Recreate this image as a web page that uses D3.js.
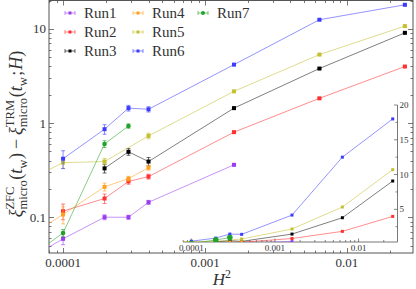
<!DOCTYPE html>
<html>
<head>
<meta charset="utf-8">
<script src="https://cdn.jsdelivr.net/npm/d3@7"></script>
<style>
  body { margin: 0; background: #fff; }
  svg { display: block; }
  text { font-family: "Liberation Serif", "DejaVu Serif", serif; fill: #333; }
</style>
</head>
<body>
<svg id="chart"></svg>
<script>
// Dimensioni finestra
const width = 416, height = 289;

// Valori di H^2 (il primo punto cade fuori dal riquadro, a sinistra)
const h2 = [0.00005, 0.0001, 0.000196, 0.000289, 0.0004, 0.0016, 0.0064, 0.0256];

// Serie: differenza xi_ZFC - xi_TRM per ogni run (null = punto assente)
const run1 = [0.032, 0.059, 0.100, 0.100, 0.144, 0.36, null, null];
const run2 = [null, 0.116, 0.158, 0.24, 0.27, 0.80, 1.83, 3.98];
const run3 = [null, null, 0.33, 0.495, 0.39, 1.44, 3.79, 9.07];
const run4 = [0.055, 0.107, 0.21, 0.257, 0.336, null, null, null];
const run5 = [0.225, 0.38, 0.39, null, 0.73, 2.17, 5.33, 10.7];
const run6 = [null, 0.418, 0.86, 1.44, 1.40, 4.17, 12.5, 18.0];
const run7 = [0.032, 0.068, 0.60, 0.93, null, null, null, null];

// Barre d'errore
const run1Err = [0.004, 0.008, 0.006, 0.005, 0.007, 0.008, null, null];
const run2Err = [null, 0.022, 0.018, 0.016, 0.016, 0.02, 0.03, 0.05];
const run3Err = [null, null, 0.035, 0.04, 0.04, 0.03, 0.05, 0.1];
const run4Err = [0.005, 0.022, 0.02, 0.015, 0.02, null, null, null];
const run5Err = [0.02, 0.05, 0.03, null, 0.05, 0.04, 0.06, 0.1];
const run6Err = [null, 0.09, 0.1, 0.1, 0.09, 0.06, 0.15, 0.2];
const run7Err = [0.003, 0.006, 0.05, 0.05, null, null, null, null];

const runNames = ['Run1', 'Run2', 'Run3', 'Run4', 'Run5', 'Run6', 'Run7'];
const runColors = ['#9a3cf0', '#ff3030', '#000000', '#ffa020', '#c4c030', '#3c3cff', '#22a22a'];

const xTickLabels = ['0.0001', '0.001', '0.01'];
const yTickLabels = ['0.1', '1', '10'];
const insetYTicks = [5, 10, 15, 20];

const series = [run1, run2, run3, run4, run5, run6, run7].map((vals, i) => ({
  name: runNames[i],
  color: runColors[i],
  points: h2.map((h, j) => ({ x: h, y: vals[j], e: [run1Err, run2Err, run3Err, run4Err, run5Err, run6Err, run7Err][i][j] }))
            .filter(p => p.y !== null)
}));

const svg = d3.select('#chart').attr('width', width).attr('height', height);

// Riquadro principale
const frame = { left: 49, right: 413, top: 0.5, bottom: 253 };
const x = d3.scaleLog().domain([7.96e-5, 0.0292]).range([frame.left, frame.right]);
const y = d3.scaleLog().domain([0.0417, 20]).range([frame.bottom, frame.top]);

// Riquadro inserito (asse y lineare)
const inset = { left: 183, right: 397.5, top: 105, bottom: 242 };
const xi = d3.scaleLog().domain(x.domain()).range([inset.left, inset.right]);
const yi = d3.scaleLinear().domain([0.3, 20]).range([inset.bottom, inset.top]);

const defs = svg.append('defs');
defs.append('clipPath').attr('id', 'clipMain').append('rect')
  .attr('x', frame.left).attr('y', frame.top)
  .attr('width', frame.right - frame.left).attr('height', frame.bottom - frame.top);
defs.append('clipPath').attr('id', 'clipInset').append('rect')
  .attr('x', inset.left).attr('y', inset.top - 3)
  .attr('width', inset.right - inset.left).attr('height', inset.bottom - inset.top + 3);

// Tacche logaritmiche
function logTicks(scale) {
  const [a, b] = scale.domain();
  const out = [];
  for (let n = -6; n <= 2; n++) {
    for (let k = 1; k <= 9; k++) {
      const v = k * Math.pow(10, n);
      if (v >= a * 0.999 && v <= b * 1.001) out.push({ v, major: k === 1 });
    }
  }
  return out;
}

const axisColor = '#555';
const axes = svg.append('g');

axes.append('rect')
  .attr('x', frame.left).attr('y', frame.top)
  .attr('width', frame.right - frame.left).attr('height', frame.bottom - frame.top)
  .attr('fill', 'none').attr('stroke', axisColor).attr('stroke-width', 1);

logTicks(x).forEach(t => {
  const len = t.major ? 5 : 2.5;
  const px = Math.round(x(t.v)) + 0.5;
  axes.append('line').attr('x1', px).attr('x2', px).attr('y1', frame.bottom).attr('y2', frame.bottom - len)
    .attr('stroke', axisColor).attr('stroke-width', 0.8);
  axes.append('line').attr('x1', px).attr('x2', px).attr('y1', frame.top).attr('y2', frame.top + len)
    .attr('stroke', axisColor).attr('stroke-width', 0.8);
});
logTicks(y).forEach(t => {
  const len = t.major ? 5 : 2.5;
  const py = Math.round(y(t.v)) + 0.5;
  axes.append('line').attr('x1', frame.left).attr('x2', frame.left + len).attr('y1', py).attr('y2', py)
    .attr('stroke', axisColor).attr('stroke-width', 0.8);
  axes.append('line').attr('x1', frame.right).attr('x2', frame.right - len).attr('y1', py).attr('y2', py)
    .attr('stroke', axisColor).attr('stroke-width', 0.8);
});

xTickLabels.forEach(s => {
  axes.append('text').attr('x', x(+s)).attr('y', 267)
    .attr('text-anchor', 'middle').style('font-size', '13px').text(s);
});
yTickLabels.forEach(s => {
  axes.append('text').attr('x', 46).attr('y', y(+s) + 4.5)
    .attr('text-anchor', 'end').style('font-size', '13px').text(s);
});

// Assi dell'inserto: solo destro e inferiore
const ia = svg.append('g');
ia.append('line').attr('x1', inset.left).attr('x2', inset.right).attr('y1', inset.bottom).attr('y2', inset.bottom)
  .attr('stroke', axisColor).attr('stroke-width', 0.8);
ia.append('line').attr('x1', inset.right).attr('x2', inset.right).attr('y1', inset.top).attr('y2', inset.bottom)
  .attr('stroke', axisColor).attr('stroke-width', 0.8);
logTicks(xi).forEach(t => {
  const len = t.major ? 3.5 : 2;
  const px = xi(t.v);
  ia.append('line').attr('x1', px).attr('x2', px).attr('y1', inset.bottom).attr('y2', inset.bottom - len)
    .attr('stroke', axisColor).attr('stroke-width', 0.7);
});
d3.range(2.5, 20.1, 2.5).forEach(v => {
  const major = v % 5 === 0;
  ia.append('line').attr('x1', inset.right).attr('x2', inset.right - (major ? 3.5 : 2))
    .attr('y1', yi(v)).attr('y2', yi(v)).attr('stroke', axisColor).attr('stroke-width', 0.7);
});
xTickLabels.forEach(s => {
  ia.append('text').attr('x', xi(+s)).attr('y', 251)
    .attr('text-anchor', 'middle').style('font-size', '9px').text(s);
});
insetYTicks.forEach(v => {
  ia.append('text').attr('x', inset.right + 2).attr('y', yi(v) + 3)
    .style('font-size', '9px').text(v);
});

// Disegna una serie con linee, barre d'errore e marcatori
function drawSeries(g, s, sx, sy, big) {
  const line = d3.line().x(d => sx(d.x)).y(d => sy(d.y));
  g.append('path').datum(s.points)
    .attr('d', line).attr('fill', 'none')
    .attr('stroke', s.color).attr('stroke-width', 1)
    .attr('stroke-opacity', s.name === 'Run3' ? 0.5 : 0.55);

  if (big) {
    const eb = g.append('g').attr('stroke', s.color).attr('stroke-opacity', 0.6).attr('stroke-width', 1);
    s.points.forEach(p => {
      const x0 = sx(p.x), y1 = sy(Math.max(p.y - p.e, 1e-4)), y2 = sy(p.y + p.e);
      eb.append('line').attr('x1', x0).attr('x2', x0).attr('y1', y1).attr('y2', y2);
      eb.append('line').attr('x1', x0 - 2).attr('x2', x0 + 2).attr('y1', y1).attr('y2', y1);
      eb.append('line').attr('x1', x0 - 2).attr('x2', x0 + 2).attr('y1', y2).attr('y2', y2);
    });
  }

  const sz = big ? 4 : 3;
  if (s.name === 'Run7') {
    g.selectAll(null).data(s.points).enter().append('circle')
      .attr('cx', d => sx(d.x)).attr('cy', d => sy(d.y))
      .attr('r', big ? 2.3 : 2.8).attr('fill', s.color);
  } else {
    g.selectAll(null).data(s.points).enter().append('rect')
      .attr('x', d => sx(d.x) - sz / 2).attr('y', d => sy(d.y) - sz / 2)
      .attr('width', sz).attr('height', sz).attr('fill', s.color);
  }
}

const mainG = svg.append('g').attr('clip-path', 'url(#clipMain)');
series.forEach(s => drawSeries(mainG, s, x, y, true));

const insetG = svg.append('g').attr('clip-path', 'url(#clipInset)');
series.forEach(s => drawSeries(insetG, s, xi, yi, false));

// Legenda su tre colonne
const legCols = [65, 133, 198];
const legRows = [13, 32, 51];
const legend = svg.append('g');
series.forEach((s, i) => {
  const cx = legCols[Math.floor(i / 3)], cy = legRows[i % 3];
  const g = legend.append('g').attr('stroke', s.color);
  g.append('line').attr('x1', cx).attr('x2', cx + 10).attr('y1', cy).attr('y2', cy)
    .attr('stroke-opacity', 0.6);
  g.append('line').attr('x1', cx).attr('x2', cx).attr('y1', cy - 2).attr('y2', cy + 2).attr('stroke-opacity', 0.6);
  g.append('line').attr('x1', cx + 10).attr('x2', cx + 10).attr('y1', cy - 2).attr('y2', cy + 2).attr('stroke-opacity', 0.6);
  if (s.name === 'Run7') {
    g.append('circle').attr('cx', cx + 5).attr('cy', cy).attr('r', 2).attr('fill', s.color).attr('stroke', 'none');
  } else {
    g.append('rect').attr('x', cx + 3.5).attr('y', cy - 1.5).attr('width', 3).attr('height', 3)
      .attr('fill', s.color).attr('stroke', 'none');
  }
  legend.append('text').attr('x', cx + 19).attr('y', cy + 5)
    .style('font-size', '15px').text(s.name);
});

// Testo matematico con apici e pedici sovrapposti
function addMath(g, pieces, base) {
  let px = 0;
  pieces.forEach(p => {
    if (p.sup !== undefined || p.sub !== undefined) {
      let w = 0;
      if (p.sup !== undefined) {
        const a = g.append('text').attr('x', px).attr('y', -base * 0.42)
          .style('font-size', (base * 0.7) + 'px').text(p.sup);
        w = Math.max(w, a.node().getComputedTextLength());
      }
      if (p.sub !== undefined) {
        const b = g.append('text').attr('x', px).attr('y', base * 0.3)
          .style('font-size', (base * 0.7) + 'px').text(p.sub);
        w = Math.max(w, b.node().getComputedTextLength());
      }
      px += w + 0.5;
    } else {
      const t = g.append('text').attr('x', px + (p.pad || 0))
        .style('font-size', base + 'px').style('font-style', p.it ? 'italic' : null).text(p.t);
      px += t.node().getComputedTextLength() + 2 * (p.pad || 0);
    }
  });
  return px;
}

const ylab = svg.append('g');
const ylabInner = ylab.append('g');
const yw = addMath(ylabInner, [
  { t: 'ξ', it: true }, { sup: 'ZFC', sub: 'micro' },
  { t: '(' }, { t: 't', it: true }, { sub: 'w' }, { t: ')' },
  { t: '−', pad: 4 },
  { t: 'ξ', it: true }, { sup: 'TRM', sub: 'micro' },
  { t: '(' }, { t: 't', it: true }, { sub: 'w' }, { t: '; ', pad: 1 }, { t: 'H', it: true }, { t: ')' }
], 18);
ylab.attr('transform', `translate(22,${134}) rotate(-90) translate(${-yw / 2},0)`);

const xlab = svg.append('g');
const xw = addMath(xlab, [{ t: 'H', it: true }, { sup: '2' }], 17);
xlab.attr('transform', `translate(${222 - xw / 2},285)`);
</script>
</body>
</html>
